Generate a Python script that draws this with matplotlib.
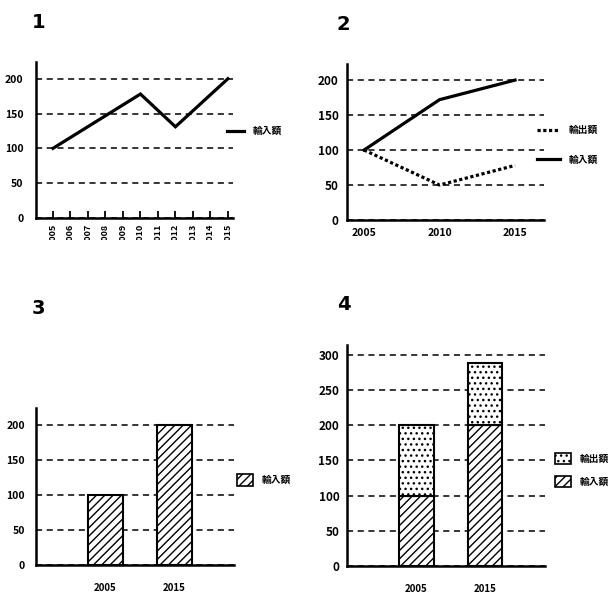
import matplotlib.pyplot as plt
import matplotlib.transforms as mtransforms
from matplotlib.lines import Line2D
from matplotlib.patches import Patch

# chart 1: imports by year (vertices of the line)
years1 = [2005, 2010, 2012, 2015]
imports1 = [100, 178, 131, 200]
ticks1 = list(range(2005, 2016))

# chart 2: imports / exports
years2 = [2005, 2010, 2015]
imports2 = [100, 172, 200]
exports2 = [100, 50, 78]

# chart 3: imports bars
cats3 = ['2005', '2015']
imports3 = [100, 200]

# chart 4: stacked imports + exports
cats4 = ['2005', '2015']
imports4 = [100, 200]
exports4 = [100, 88]

lbl_in = '輸入額'
lbl_out = '輸出額'

plt.rcParams['font.family'] = ['Liberation Sans Narrow', 'Noto Sans CJK JP', 'DejaVu Sans']
plt.rcParams['hatch.linewidth'] = 1.0

W = 614
fig = plt.figure(figsize=(6.14, 6.14), dpi=100)


def px_axes(left, right, top, bottom):
    return fig.add_axes([left / W, 1 - bottom / W, (right - left) / W, (bottom - top) / W])


def style(ax, yticks, fs=8, pad=8):
    for s in ['top', 'right']:
        ax.spines[s].set_visible(False)
    for s in ['left', 'bottom']:
        ax.spines[s].set_linewidth(1.8)
    ax.set_yticks(yticks)
    ax.tick_params(axis='y', length=0, pad=pad, labelsize=fs)
    for t in ax.get_yticklabels():
        t.set_fontweight('bold')
    ax.yaxis.grid(True, linestyle=(0, (4, 3)), color='black', linewidth=1.1)
    ax.set_axisbelow(True)


leg_kw = dict(frameon=False, borderpad=0, prop={'family': 'Noto Sans CJK JP', 'weight': 'bold', 'size': 7})

# ---- chart 1
ax1 = px_axes(36, 233, 62, 218)
ax1.plot(years1, imports1, color='black', lw=2.3, solid_joinstyle='miter')
ax1.set_xlim(2004.03, 2015.29)
ax1.set_ylim(0, 224)
style(ax1, [0, 50, 100, 150, 200], fs=7.5, pad=9)
ax1.set_xticks(ticks1)
ax1.set_xticklabels([str(y) for y in ticks1], rotation=90, fontsize=6.5, fontweight='bold')
ax1.tick_params(axis='x', direction='in', length=5, width=1.3, pad=4)
clip = mtransforms.TransformedBbox(mtransforms.Bbox([[0, 1 - 240 / W], [1, 1]]), fig.transFigure)
for t in ax1.get_xticklabels():
    t.set_clip_on(True)
    t.set_clip_box(clip)
fig.legend(handles=[Line2D([], [], color='black', lw=2.3)], labels=[lbl_in],
           loc='center left', bbox_to_anchor=(222 / W, 1 - 131 / W),
           handlelength=1.8, handletextpad=0.9, **leg_kw)

# ---- chart 2
ax2 = px_axes(347, 544, 64, 220)
ax2.plot(years2, imports2, color='black', lw=2.3)
ax2.plot(years2, exports2, color='black', lw=2.3, linestyle=(0, (1, 0.8)))
ax2.set_xlim(2003.87, 2016.92)
ax2.set_ylim(0, 223)
style(ax2, [0, 50, 100, 150, 200], fs=8.5, pad=6)
ax2.set_xticks(years2)
ax2.set_xticklabels([str(y) for y in years2], fontsize=7.5, fontweight='bold')
ax2.tick_params(axis='x', length=0, pad=6)
fig.legend(handles=[Line2D([], [], color='black', lw=2.3, linestyle=(0, (1, 0.8))),
                    Line2D([], [], color='black', lw=2.3)],
           labels=[lbl_out, lbl_in],
           loc='center left', bbox_to_anchor=(532 / W, 1 - 145 / W),
           handlelength=2.4, handletextpad=0.9, labelspacing=2.0, **leg_kw)

# ---- chart 3
ax3 = px_axes(36, 234, 408, 565)
ax3.bar(range(len(cats3)), imports3, width=0.507, color='white', edgecolor='black',
        hatch='////', linewidth=1.5)
ax3.set_xlim(-1.007, 1.862)
ax3.set_ylim(0, 224)
style(ax3, [0, 50, 100, 150, 200], fs=7.5, pad=8)
ax3.set_xticks(range(len(cats3)))
ax3.set_xticklabels(cats3, fontsize=7, fontweight='bold')
ax3.tick_params(axis='x', length=0, pad=13)
fig.legend(handles=[Patch(facecolor='white', edgecolor='black', hatch='////', lw=1.2)],
           labels=[lbl_in], loc='center left', bbox_to_anchor=(232 / W, 1 - 480 / W),
           handlelength=1.7, handleheight=1.4, handletextpad=0.9, **leg_kw)

# ---- chart 4
ax4 = px_axes(347, 545, 345, 566)
x4 = range(len(cats4))
ax4.bar(x4, imports4, width=0.51, color='white', edgecolor='black', hatch='////', linewidth=1.5)
ax4.bar(x4, exports4, width=0.51, bottom=imports4, color='white', edgecolor='black',
        hatch='...', linewidth=1.5)
ax4.set_xlim(-1.015, 1.876)
ax4.set_ylim(0, 314)
style(ax4, [0, 50, 100, 150, 200, 250, 300], fs=8.5, pad=5.5)
ax4.set_xticks(list(x4))
ax4.set_xticklabels(cats4, fontsize=7, fontweight='bold')
ax4.tick_params(axis='x', length=0, pad=13)
fig.legend(handles=[Patch(facecolor='white', edgecolor='black', hatch='...', lw=1.2),
                    Patch(facecolor='white', edgecolor='black', hatch='////', lw=1.2)],
           labels=[lbl_out, lbl_in], loc='center left', bbox_to_anchor=(550 / W, 1 - 470 / W),
           handlelength=1.7, handleheight=1.4, handletextpad=0.9, labelspacing=1.2, **leg_kw)

# panel numbers
for num, (x, y) in zip(['1', '2', '3', '4'], [(32, 22), (337, 25), (32, 308), (337, 305)]):
    fig.text(x / W, 1 - y / W, num, fontsize=14, fontweight='bold', va='center', ha='left',
             family='DejaVu Sans')

fig.savefig('out.png', dpi=100)
